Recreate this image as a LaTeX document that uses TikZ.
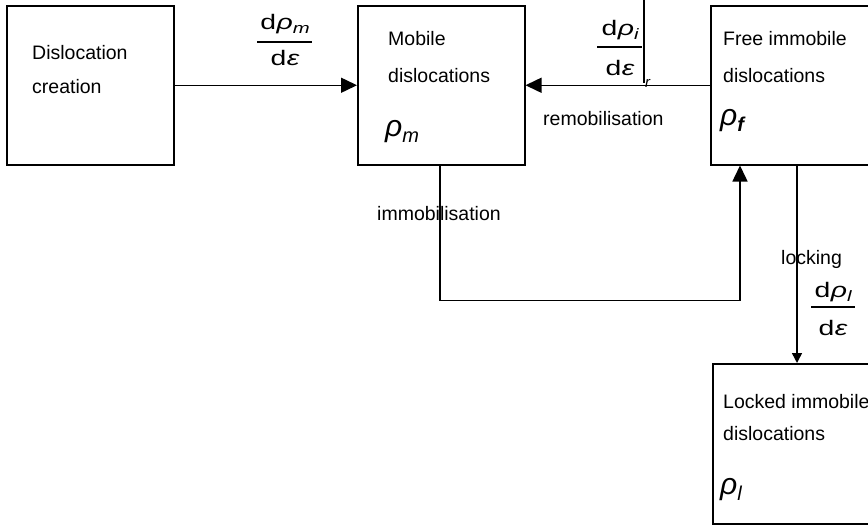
\documentclass[tikz,border=0pt]{standalone}
\usepackage{fontspec}
\setmainfont{Liberation Sans}
% horizontally widened face for the rate terms
\newfontfamily\ratefont[FakeStretch=1.35]{Liberation Sans}
\usetikzlibrary{arrows.meta}

% text sizes
\newcommand\lbl{\fontsize{19.5}{23}\selectfont}
\newcommand\bigsym{\fontsize{30}{33}\selectfont\itshape}
\newcommand\sub[2]{\raisebox{-0.22em}{\fontsize{#1}{#1}\selectfont\itshape #2}}
% a rate term: upright d, italic Greek letter, optional subscript
\newcommand\rate[2]{{\ratefont\fontsize{21}{24}\selectfont d\kern0.5pt{\itshape #1}#2}}

\begin{document}
\begin{tikzpicture}[x=1pt,y=-1pt,
  box/.style={draw,line width=1.5pt,minimum width=167pt,minimum height=159pt,anchor=north west,inner sep=0pt},
  txt/.style={anchor=base west,inner sep=0pt,font=\lbl},
  fnum/.style={anchor=base,inner sep=0pt},
  fbar/.style={line width=1.3pt},
  flow/.style={line width=1.5pt,-{Triangle[length=16pt,width=15pt]}},
  smallflow/.style={line width=1.5pt,-{Triangle[length=10pt,width=10pt]}}]
\useasboundingbox (0,0) rectangle (868,525);

% boxes
\node[box] (create) at (6,5) {};
\node[box] (mobile) at (357,5) {};
\node[box,minimum width=164pt] (free) at (710,5) {};
\node[box,minimum width=164pt,minimum height=160pt] (locked) at (712,363) {};

% box contents
\node[txt] (createA) at (32,59) {Dislocation};
\node[txt] (createB) at (32,93) {creation};
\node[txt] (mobileA) at (388,45) {Mobile};
\node[txt] (mobileB) at (388,82) {dislocations};
\node[anchor=base west,inner sep=0pt,font=\bigsym] (mobileR) at (385,136) {ρ\sub{20}{m}};
\node[txt] (freeA) at (723,45) {Free immobile};
\node[txt] (freeB) at (723,82) {dislocations};
\node[anchor=base west,inner sep=0pt,font=\bigsym] (freeR) at (720,125) {ρ\sub{20}{\bfseries f}};
\node[txt] (lockedA) at (723,408) {Locked immobile};
\node[txt] (lockedB) at (723,440) {dislocations};
\node[anchor=base west,inner sep=0pt,font=\bigsym] (lockedR) at (720,494) {ρ\sub{20}{l}};

% connectors
\draw[flow] (create) -- (mobile);
\draw[flow] (free.west) -- (mobile.east);
\draw[flow] ([xshift=83pt]mobile.south west) -- ++(0,135) -| ([xshift=30pt]free.south west);
\draw[smallflow] ([xshift=87pt]free.south west) -- ([xshift=85pt]locked.north west);

% rate labels
\node[fnum] (r1n) at (285,29) {\rate{ρ}{\sub{15}{m}}};
\draw[fbar] (257,42) -- (312,42);
\node[fnum] (r1d) at (285,65) {\rate{ε}{}};

\node[fnum] (r2n) at (620,35) {\rate{ρ}{\sub{15}{i}}};
\draw[fbar] (597,47) -- (642,47);
\node[fnum] (r2d) at (620,75) {\rate{ε}{}};
\draw[line width=1.3pt] (644,0) -- (644,83);
\node[anchor=base west,inner sep=0pt,font=\fontsize{15}{17}\selectfont\itshape] (r2s) at (645,87) {r};

\node[fnum] (r3n) at (833,297) {\rate{ρ}{\sub{15}{l}}};
\draw[fbar] (811,307) -- (855,307);
\node[fnum] (r3d) at (833,335) {\rate{ε}{}};

% process labels
\node[txt] (remob) at (543,125) {remobilisation};
\node[txt] (immob) at (377,220) {immobilisation};
\node[txt] (lock) at (781,264) {locking};
\end{tikzpicture}
\end{document}
